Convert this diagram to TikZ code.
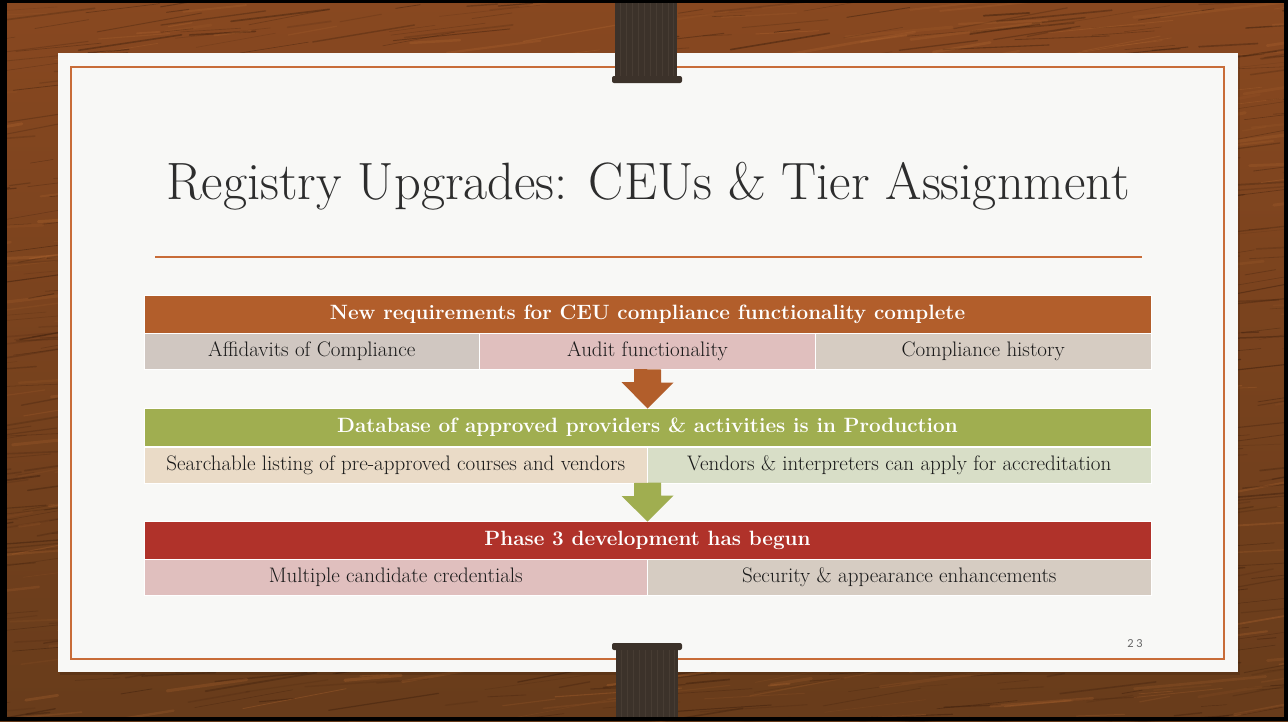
\documentclass[tikz,border=0pt]{standalone}
\usepackage{fontspec}
\newfontfamily\pgnumfont[LetterSpace=25]{Lato}
\usetikzlibrary{calc}
\definecolor{woodTop}{RGB}{136,72,32}
\definecolor{woodBot}{RGB}{104,60,27}
\definecolor{grainD}{RGB}{66,34,14}
\definecolor{grainL}{RGB}{176,102,48}
\definecolor{paper}{RGB}{248,248,246}
\definecolor{rule}{RGB}{200,108,56}
\definecolor{clipC}{RGB}{60,50,42}
\definecolor{clipL}{RGB}{82,70,60}
\definecolor{hOrange}{RGB}{178,94,43}
\definecolor{hGreen}{RGB}{160,174,80}
\definecolor{hRed}{RGB}{176,50,42}
\definecolor{cGray}{RGB}{208,199,193}
\definecolor{cPink}{RGB}{224,191,190}
\definecolor{cTaupe}{RGB}{214,204,194}
\definecolor{cPeach}{RGB}{234,219,199}
\definecolor{cSage}{RGB}{216,222,199}
\definecolor{txt}{RGB}{25,25,25}
\definecolor{titleC}{RGB}{45,45,45}
\definecolor{pgC}{RGB}{100,100,100}
\begin{document}
\begin{tikzpicture}[x=1pt,y=-1pt,
  hdr/.style={minimum width=1007pt, minimum height=38pt, inner sep=0pt, outer sep=0pt,
    draw=white, line width=0.6pt, text=white, font=\fontsize{20.7}{24}\selectfont\bfseries},
  cell/.style={minimum height=36pt, inner sep=0pt, outer sep=0pt,
    draw=white, line width=0.8pt, text=txt, font=\fontsize{21}{24}\selectfont},
  clipbody/.style={fill=clipC},
  grain/.style={line cap=round}
]
\useasboundingbox (0,0) rectangle (1288,721);
% wood background
\shade[top color=woodTop, bottom color=woodBot] (0,0) rectangle (1288,721);
\pgfmathsetseed{11}
\foreach \i in {1,...,1100}{
  \pgfmathsetmacro\xa{rnd*1380-60}
  \pgfmathsetmacro\ya{rnd*730}
  \pgfmathsetmacro\len{15+rnd*110}
  \pgfmathsetmacro\ang{2+rnd*9}
  \pgfmathsetmacro\lw{0.4+rnd*1.4}
  \pgfmathsetmacro\op{0.15+rnd*0.4}
  \draw[grain, grainD, line width=\lw pt, opacity=\op] (\xa,\ya) -- ++(-\ang:\len);
}
\foreach \i in {1,...,500}{
  \pgfmathsetmacro\xa{rnd*1380-60}
  \pgfmathsetmacro\ya{rnd*730}
  \pgfmathsetmacro\len{20+rnd*120}
  \pgfmathsetmacro\ang{2+rnd*9}
  \pgfmathsetmacro\lw{0.6+rnd*2.5}
  \pgfmathsetmacro\op{0.10+rnd*0.25}
  \draw[grain, grainL, line width=\lw pt, opacity=\op] (\xa,\ya) -- ++(-\ang:\len);
}
% black frame
\fill[black] (0,0) rectangle (1288,3);
\fill[black] (0,0) rectangle (7,721);
\fill[black] (1284,0) rectangle (1288,721);
\fill[black] (0,717) rectangle (1288,721);
% paper
\fill[black, opacity=0.12] (60,55) rectangle (1240,675);
\fill[paper] (58,53) rectangle (1238,672);
\draw[rule, line width=1.2pt] (71,67) rectangle (1224,659);
% title
\node[anchor=base, text=titleC, font=\fontsize{52.5}{60}\selectfont, inner sep=0pt] (title) at (648,199)
  {Registry Upgrades: CEUs \& Tier Assignment};
\coordinate (ruleL) at (155,257);
\coordinate (ruleR) at (1142,257);
\draw[rule, line width=1.4pt] (ruleL) -- (ruleR);
% block 1
\node[hdr, fill=hOrange] (h1) at (647.5,314) {New requirements for CEU compliance functionality complete};
\node[cell, fill=cGray,  minimum width=335.67pt] (r1a) at (311.83,351) {Affidavits of Compliance};
\node[cell, fill=cPink,  minimum width=335.67pt] (r1b) at (647.5,351) {Audit functionality};
\node[cell, fill=cTaupe, minimum width=335.67pt] (r1c) at (983.17,351) {Compliance history};
% block 2
\node[hdr, fill=hGreen] (h2) at (647.5,427.5) {Database of approved providers \& activities is in Production};
\node[cell, fill=cPeach, minimum width=503.5pt] (r2a) at (395.75,465) {Searchable listing of pre-approved courses and vendors};
\node[cell, fill=cSage,  minimum width=503.5pt] (r2b) at (899.25,465) {Vendors \& interpreters can apply for accreditation};
% block 3
\node[hdr, fill=hRed] (h3) at (647.5,540.5) {Phase 3 development has begun};
\node[cell, fill=cPink,  minimum width=503.5pt] (r3a) at (395.75,577) {Multiple candidate credentials};
\node[cell, fill=cTaupe, minimum width=503.5pt] (r3b) at (899.25,577) {Security \& appearance enhancements};
% block arrows
\fill[hOrange] ($(r1b.south)+(-13.5,0)$) -- ++(0,13) -- ++(-12.5,0) -- (h2.north) -- ++(26,-26) -- ++(-12.5,0) -- ++(0,-13) -- cycle;
\fill[hGreen] ($(r2a.south east)+(-13.5,0)$) -- ++(0,13) -- ++(-12.5,0) -- (h3.north) -- ++(26,-26) -- ++(-12.5,0) -- ++(0,-13) -- cycle;
% page number
\node[text=pgC, font=\pgnumfont\fontsize{11}{13}\selectfont, inner sep=0pt] (pg) at (1135,644) {23};
% top clip
\fill[clipbody] (615,3) rectangle (677,78);
\foreach \xx in {620,626,632,638,644,650,656,662,668,673}{
  \draw[clipL, line width=0.6pt, opacity=0.5] (\xx,3) -- (\xx,76);
}
\fill[clipbody, rounded corners=2pt] (612,76) rectangle (682,83);
% bottom clip
\fill[clipbody, rounded corners=2pt] (612,643) rectangle (682,650);
\fill[clipbody] (616,648) rectangle (678,717);
\foreach \xx in {621,627,633,639,645,651,657,663,669,674}{
  \draw[clipL, line width=0.6pt, opacity=0.5] (\xx,650) -- (\xx,717);
}
\end{tikzpicture}
\end{document}
